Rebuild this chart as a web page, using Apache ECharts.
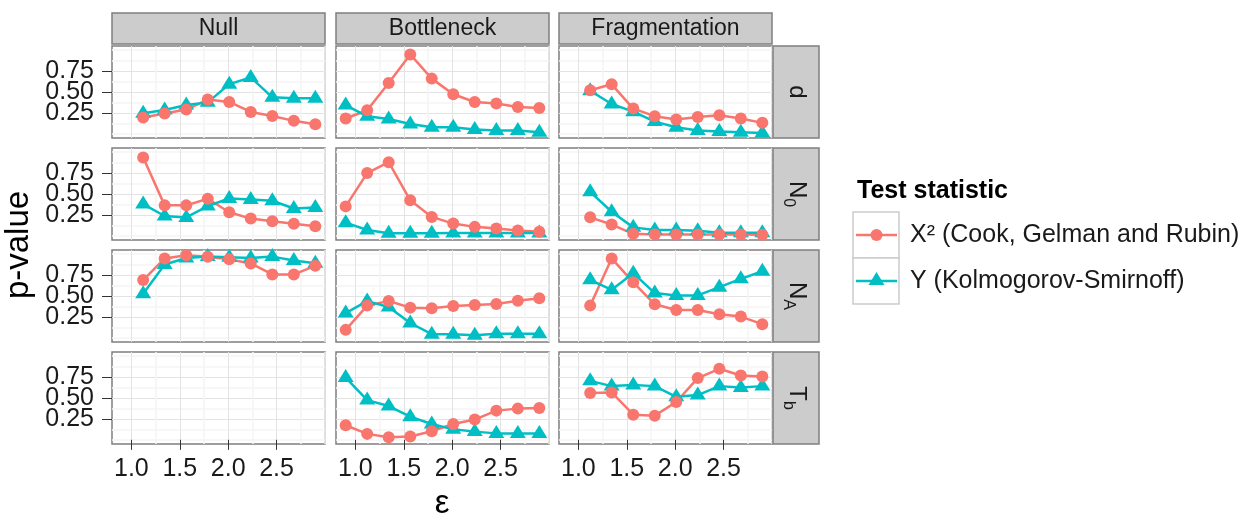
<!DOCTYPE html>
<html><head><meta charset="utf-8">
<script src="https://cdn.jsdelivr.net/npm/echarts@6/dist/echarts.min.js"></script>
<style>html,body{margin:0;padding:0;background:#fff}#c{width:1259px;height:521px}</style>
</head><body><div id="c"></div>
<script>
// ---------- data ----------
const scenarios = ['Null', 'Bottleneck', 'Fragmentation'];
const params = ['d', 'N0', 'NA', 'Tb'];
const eps = [0.9, 1.122, 1.344, 1.567, 1.789, 2.011, 2.233, 2.456, 2.678, 2.9];
const xTicks = [1.0, 1.5, 2.0, 2.5];
const xMinor = [1.25, 1.75, 2.25, 2.75, 3.0];
const yTicks = [0.25, 0.5, 0.75];
const yMinor = [0, 0.125, 0.375, 0.625, 0.875, 1.0];

// Null (eps from 1.122), Bottleneck (eps from 0.9), Fragmentation (eps from 1.122)
const nullD_X2  = [0.195, 0.243, 0.290, 0.410, 0.381, 0.262, 0.214, 0.155, 0.115];
const nullD_Y   = [0.245, 0.285, 0.344, 0.376, 0.594, 0.674, 0.436, 0.424, 0.424];
const botD_X2   = [0.183, 0.282, 0.607, 0.949, 0.660, 0.473, 0.381, 0.362, 0.321, 0.310];
const botD_Y    = [0.344, 0.209, 0.177, 0.118, 0.079, 0.079, 0.051, 0.039, 0.039, 0.019];
const fragD_X2  = [0.520, 0.592, 0.302, 0.211, 0.171, 0.202, 0.223, 0.183, 0.131];
const fragD_Y   = [0.515, 0.356, 0.265, 0.146, 0.079, 0.039, 0.027, 0.019, 0.011];

const nullN0_X2 = [0.936, 0.364, 0.364, 0.444, 0.281, 0.206, 0.174, 0.143, 0.114];
const nullN0_Y  = [0.380, 0.237, 0.220, 0.356, 0.446, 0.435, 0.419, 0.327, 0.339];
const botN0_X2  = [0.352, 0.750, 0.881, 0.424, 0.226, 0.146, 0.107, 0.087, 0.063, 0.048];
const botN0_Y   = [0.157, 0.070, 0.030, 0.030, 0.030, 0.035, 0.035, 0.035, 0.035, 0.035];
const fragN0_X2 = [0.221, 0.135, 0.024, 0.015, 0.015, 0.015, 0.015, 0.015, 0.012];
const fragN0_Y  = [0.526, 0.288, 0.101, 0.070, 0.070, 0.062, 0.038, 0.038, 0.038];

const nullNA_X2 = [0.690, 0.949, 0.988, 0.968, 0.940, 0.889, 0.758, 0.758, 0.861];
const nullNA_Y  = [0.526, 0.876, 0.955, 0.971, 0.963, 0.955, 0.971, 0.924, 0.892];
const botNA_X2  = [0.095, 0.385, 0.440, 0.361, 0.354, 0.381, 0.393, 0.405, 0.444, 0.473];
const botNA_Y   = [0.296, 0.439, 0.368, 0.177, 0.043, 0.043, 0.031, 0.050, 0.050, 0.050];
const fragNA_X2 = [0.385, 0.949, 0.663, 0.401, 0.333, 0.333, 0.282, 0.254, 0.163];
const fragNA_Y  = [0.693, 0.574, 0.773, 0.535, 0.507, 0.507, 0.606, 0.705, 0.796];

const nullTb_X2 = [];
const nullTb_Y  = [];
const botTb_X2  = [0.174, 0.071, 0.031, 0.039, 0.102, 0.190, 0.242, 0.349, 0.373, 0.381];
const botTb_Y   = [0.744, 0.475, 0.404, 0.276, 0.189, 0.125, 0.098, 0.077, 0.077, 0.077];
const fragTb_X2 = [0.560, 0.567, 0.301, 0.289, 0.452, 0.738, 0.849, 0.769, 0.757];
const fragTb_Y  = [0.705, 0.642, 0.654, 0.642, 0.514, 0.535, 0.642, 0.625, 0.642];

const legendLabels = ['X\u00B2 (Cook, Gelman and Rubin)', 'Y (Kolmogorov-Smirnoff)'];

// ---------- layout ----------
const FONT = 'Liberation Sans, Arial, Helvetica, sans-serif';
const RED = '#F8766D', CYAN = '#00BFC4';
const colLeft = [112, 336, 559], colW = 213;
const rowTop = [46, 148, 250, 352], rowH = 92;
const TICKFS = 25;

const table = [
  [[nullD_X2, nullD_Y], [botD_X2, botD_Y], [fragD_X2, fragD_Y]],
  [[nullN0_X2, nullN0_Y], [botN0_X2, botN0_Y], [fragN0_X2, fragN0_Y]],
  [[nullNA_X2, nullNA_Y], [botNA_X2, botNA_Y], [fragNA_X2, fragNA_Y]],
  [[nullTb_X2, nullTb_Y], [botTb_X2, botTb_Y], [fragTb_X2, fragTb_Y]]
];

const grids = [], xAxes = [], yAxes = [], lineSeries = [], cyanPts = [], redPts = [];
for (let r = 0; r < 4; r++) {
  for (let c = 0; c < 3; c++) {
    const g = r * 3 + c;
    grids.push({left: colLeft[c], top: rowTop[r], width: colW, height: rowH,
      show: true, borderColor: '#7F7F7F', borderWidth: 1.5, backgroundColor: '#fff'});
    const xi = xAxes.length;
    xAxes.push({gridIndex: g, type: 'value', min: 0.8, max: 3.0, position: 'bottom',
      axisLine: {show: false},
      axisTick: {show: r === 3, customValues: xTicks, length: 10, lineStyle: {color: '#333', width: 1}},
      axisLabel: {show: r === 3, customValues: xTicks, formatter: v => v.toFixed(1),
        fontSize: TICKFS, color: '#1a1a1a', fontFamily: FONT, margin: 13},
      splitLine: {show: true, lineStyle: {color: '#E3E3E3', width: 1}}});
    xAxes.push({gridIndex: g, type: 'value', min: 0.8, max: 3.0, position: 'top',
      axisLine: {show: false}, axisTick: {show: false, customValues: xMinor},
      axisLabel: {show: false, customValues: xMinor},
      splitLine: {show: true, lineStyle: {color: '#F4F4F4', width: 1.5}}});
    const yi = yAxes.length;
    yAxes.push({gridIndex: g, type: 'value', min: -0.05, max: 1.05, position: 'left',
      axisLine: {show: false},
      axisTick: {show: false, customValues: yTicks},
      axisLabel: {show: false, customValues: yTicks},
      splitLine: {show: true, lineStyle: {color: '#E3E3E3', width: 1}}});
    yAxes.push({gridIndex: g, type: 'value', min: -0.05, max: 1.05, position: 'right',
      axisLine: {show: false}, axisTick: {show: false, customValues: yMinor},
      axisLabel: {show: false, customValues: yMinor},
      splitLine: {show: true, lineStyle: {color: '#F4F4F4', width: 1.5}}});
    if (c === 0) {
      // one axis per tick label so that the large labels are never dropped as overlapping
      yTicks.forEach(v => {
        yAxes.push({gridIndex: g, type: 'value', min: -0.05, max: 1.05, position: 'left', offset: 0,
          axisLine: {show: false},
          axisTick: {show: true, customValues: [v], length: 10, lineStyle: {color: '#333', width: 1}},
          axisLabel: {show: true, customValues: [v], formatter: t => t.toFixed(2),
            fontSize: TICKFS, color: '#1a1a1a', fontFamily: FONT, margin: 18},
          splitLine: {show: false}});
      });
    }

    const xs = c === 1 ? eps : eps.slice(1);
    const [x2, yy] = table[r][c];
    const dX2 = x2.map((v, i) => [xs[i], v]);
    const dY = yy.map((v, i) => [xs[i], v]);
    const ax = {xAxisIndex: xi, yAxisIndex: yi};
    lineSeries.push({type: 'line', ...ax, data: dX2, showSymbol: false, silent: true, z: 2,
      lineStyle: {color: RED, width: 2.5}, animation: false});
    lineSeries.push({type: 'line', ...ax, data: dY, showSymbol: false, silent: true, z: 2,
      lineStyle: {color: CYAN, width: 2.5}, animation: false});
    cyanPts.push({type: 'scatter', ...ax, data: dY, symbol: 'triangle', symbolSize: [16, 13],
      symbolOffset: [0, -2], itemStyle: {color: CYAN, opacity: 1}, z: 3, animation: false});
    redPts.push({type: 'scatter', ...ax, data: dX2, symbol: 'circle', symbolSize: 12,
      itemStyle: {color: RED, opacity: 1}, z: 4, animation: false});
  }
}

// ---------- strips, titles, legend ----------
const graphic = [];
scenarios.forEach((s, c) => {
  graphic.push({type: 'rect', shape: {x: colLeft[c], y: 13, width: colW, height: 31},
    style: {fill: '#CCCCCC', stroke: '#7F7F7F', lineWidth: 1.5}, z: 10});
  graphic.push({type: 'text', x: colLeft[c] + colW / 2, y: 29,
    style: {text: s, fontSize: 23, fontFamily: FONT, fill: '#1a1a1a', align: 'center', verticalAlign: 'middle'}, z: 11});
});
const stripRich = {
  n: {fontSize: 24, fontFamily: FONT, fill: '#1a1a1a', lineHeight: 34, verticalAlign: 'middle'},
  s: {fontSize: 16, fontFamily: FONT, fill: '#1a1a1a', lineHeight: 16, verticalAlign: 'bottom'}
};
const stripTexts = ['{n|d}', '{n|N}{s|0}', '{n|N}{s|A}', '{n|T}{s|b}'];
params.forEach((p, r) => {
  graphic.push({type: 'rect', shape: {x: 773, y: rowTop[r], width: 46, height: rowH},
    style: {fill: '#CCCCCC', stroke: '#7F7F7F', lineWidth: 1.5}, z: 10});
  graphic.push({type: 'text', x: 797, y: rowTop[r] + rowH / 2, rotation: -Math.PI / 2,
    style: {text: stripTexts[r], rich: stripRich, align: 'center', verticalAlign: 'middle'}, z: 11});
});
graphic.push({type: 'text', x: 19, y: 245, rotation: Math.PI / 2,
  style: {text: 'p-value', fontSize: 33, fontFamily: FONT, fill: '#000', align: 'center', verticalAlign: 'middle'}});
graphic.push({type: 'text', x: 442, y: 504,
  style: {text: '\u03B5', fontSize: 33, fontFamily: FONT, fill: '#000', align: 'center', verticalAlign: 'middle'}});

// legend
graphic.push({type: 'text', x: 857, y: 191,
  style: {text: 'Test statistic', fontSize: 25, fontWeight: 'bold', fontFamily: FONT, fill: '#000', align: 'left', verticalAlign: 'middle'}});
[0, 1].forEach(i => {
  const top = 212 + i * 46, cy = top + 23, cx = 876.5;
  graphic.push({type: 'rect', shape: {x: 853, y: top, width: 46, height: 46},
    style: {fill: '#fff', stroke: '#CCCCCC', lineWidth: 1.5}});
  graphic.push({type: 'line', shape: {x1: 856, y1: cy, x2: 897, y2: cy},
    style: {stroke: i === 0 ? RED : CYAN, lineWidth: 2.5}});
  if (i === 0) {
    graphic.push({type: 'circle', shape: {cx: cx, cy: cy, r: 6}, style: {fill: RED}});
  } else {
    graphic.push({type: 'polygon', shape: {points: [[cx, cy - 9], [cx + 8, cy + 4], [cx - 8, cy + 4]]}, style: {fill: CYAN}});
  }
  graphic.push({type: 'text', x: 910, y: cy,
    style: {text: legendLabels[i], fontSize: 25, fontFamily: FONT, fill: '#1a1a1a', align: 'left', verticalAlign: 'middle'}});
});

const chart = echarts.init(document.getElementById('c'));
chart.setOption({
  animation: false,
  backgroundColor: '#fff',
  grid: grids, xAxis: xAxes, yAxis: yAxes,
  series: [...lineSeries, ...cyanPts, ...redPts],
  graphic: graphic
});
</script></body></html>
